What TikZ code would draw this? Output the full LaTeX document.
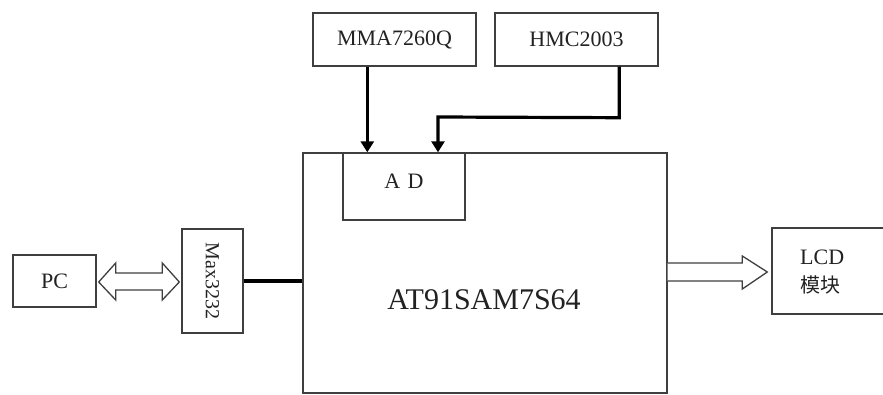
\documentclass[tikz,border=0pt]{standalone}
\usepackage{fontspec}
\setmainfont{Liberation Serif}
\newfontfamily\cjk{Noto Sans CJK SC}
\usetikzlibrary{calc,arrows.meta}
\definecolor{edge}{HTML}{3F3F3F}
\definecolor{txt}{HTML}{222222}
\begin{document}
\begin{tikzpicture}[x=1pt,y=-1pt,
  box/.style={draw=edge,line width=1.4pt,fill=white,inner sep=0pt,text=txt,font=\fontsize{22}{26}\selectfont},
  lbl/.style={inner sep=0pt,text=txt,font=\fontsize{22}{26}\selectfont},
  arr/.style={line width=3.2pt,-{Triangle[length=11pt,width=13pt]}},
  hollow/.style={draw=edge,line width=1.3pt,fill=white,line join=miter}]
\fill[white] (0,0) rectangle (883,394);
\useasboundingbox (0,0) rectangle (883,394);
\node[box,minimum width=83,minimum height=52] (pc) at (54.5,281) {PC};
\node[box,minimum width=61,minimum height=104] (max) at (212.5,281) {};
\node[lbl,rotate=-90,font=\fontsize{20}{24}\selectfont] (maxt) at (max.center) {Max3232};
\node[box,minimum width=364,minimum height=240] (main) at (485,273) {};
\node[lbl,font=\fontsize{30}{34}\selectfont] (maint) at (484,300) {AT91SAM7S64};
\node[box,minimum width=122,minimum height=67] (ad) at (404,186.5) {};
\node[lbl] (adt) at (404,181) {A\,\,D};
\node[box,minimum width=163,minimum height=53] (mma) at (394.5,39.5) {MMA7260Q};
\node[box,minimum width=163,minimum height=53] (hmc) at (576.5,39.5) {HMC2003};
\node[box,minimum width=112,minimum height=86] (lcd) at (828,271) {};
\node[lbl,align=left,anchor=west] (lcdt) at (800,272) {LCD\\[2pt]{\cjk\fontsize{20}{24}\selectfont 模块}};
% sensor arrows
\coordinate (a1) at ($(mma.south west)+(55,0)$);
\draw[arr] (a1) -- (a1 |- main.north);
\coordinate (a2) at ($(hmc.south west)+(125,0)$);
\coordinate (a2b) at ($(a2)+(0,51)$);
\coordinate (a2c) at (438,117);
\draw[arr,line join=miter] (a2) -- (a2b) -- (a2c) -- (a2c |- main.north);
% thick link max - main
\draw[line width=4.5pt] (max.east) -- (max.east -| main.west);
% double hollow arrow PC <-> Max3232
\coordinate (d1) at ($(pc.east)+(2,1)$);
\coordinate (d2) at ($(max.west)+(-2,1)$);
\draw[hollow] (d1) -- ++(17,-19) -- ++(0,10) -- ($(d2)+(-17,-9)$) -- ++(0,-10) -- (d2)
  -- ++(-17,18) -- ++(0,-10) -- ($(d1)+(17,8)$) -- ++(0,10) -- cycle;
% single hollow arrow main -> LCD
\coordinate (s1) at ($(main.east)+(0,-10)$);
\coordinate (s2) at ($(lcd.west)+(-4,1)$);
\draw[hollow] (s1) -- ($(s2)+(-25,-9)$) -- ++(0,-7) -- (s2) -- ++(-25,17) -- ++(0,-8) -- ($(s1)+(0,18)$);
\end{tikzpicture}
\end{document}
